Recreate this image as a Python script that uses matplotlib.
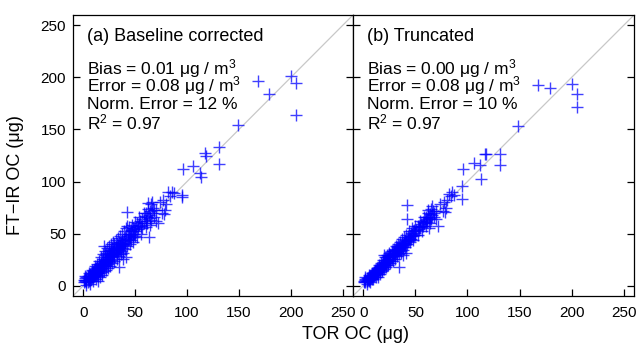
import matplotlib.pyplot as plt

plt.rcParams["font.family"] = ["Liberation Sans", "DejaVu Sans"]
plt.rcParams["mathtext.fontset"] = "custom"
plt.rcParams["mathtext.rm"] = "Liberation Sans"
plt.rcParams["mathtext.it"] = "Liberation Sans:italic"

# TOR OC (x) shared by both panels, FT-IR OC for each method
tor_oc = [
    1, 1, 2, 2, 2, 3, 3, 3, 4, 4, 4, 5, 5, 5, 6, 6, 6, 7, 7, 7,
    8, 8, 8, 9, 9, 9, 10, 10, 10, 10, 11, 11, 11, 12, 12, 12, 13, 13, 13, 14,
    14, 14, 15, 15, 15, 16, 16, 16, 17, 17, 17, 18, 18, 18, 19, 19, 19, 20, 20, 20,
    21, 21, 21, 22, 22, 22, 23, 23, 24, 24, 24, 25, 25, 26, 26, 26, 27, 27, 28, 28,
    28, 29, 29, 30, 30, 30, 31, 31, 32, 32, 32, 33, 33, 34, 34, 34, 35, 35, 36, 36,
    37, 37, 38, 38, 38, 39, 40, 40, 41, 41, 42, 42, 43, 43, 44, 45, 45, 46, 46, 47,
    48, 48, 49, 50, 50, 51, 52, 53, 54, 55, 56, 57, 58, 59, 60, 60, 61, 62, 63, 63,
    64, 65, 65, 66, 67, 68, 70, 72, 74, 76, 77, 78, 79, 80, 82, 84, 85, 87, 95, 95,
    96, 106, 112, 113, 117, 118, 131, 131, 149, 168, 179, 200, 205, 205,
    2, 3, 5, 6, 8, 9, 11, 12, 13, 14, 15, 16, 17, 18, 19, 20, 21, 22, 23, 24,
    25, 26, 27, 28, 29, 30, 31, 32, 33, 34, 35, 36, 37, 38, 39, 40, 41, 42, 44, 45,
    47, 48, 50, 52, 54, 56, 58, 60, 62, 64, 66, 68, 70, 25, 27, 29, 31, 33, 35, 37,
    39, 44, 46, 49, 53, 57, 61, 64,
]
ftir_baseline = [
    5, 3, 4, 7, 5, 5, 8, 3, 3, 7, 9, 6, 9, 4, 8, 5, 11, 10, 6, 8,
    9, 12, 7, 11, 8, 14, 13, 9, 15, 11, 12, 9, 16, 14, 11, 17, 13, 10, 18, 16,
    12, 4, 18, 14, 21, 17, 20, 8, 16, 22, 19, 19, 24, 13, 17, 21, 26, 23, 38, 19,
    20, 25, 29, 24, 19, 31, 27, 22, 26, 30, 21, 24, 33, 28, 31, 23, 25, 34, 30, 27,
    36, 33, 29, 35, 28, 40, 32, 37, 30, 35, 41, 38, 32, 36, 42, 18, 34, 39, 41, 30,
    38, 44, 40, 36, 26, 43, 41, 47, 45, 27, 71, 57, 44, 50, 48, 46, 50, 44, 53, 52,
    47, 55, 50, 52, 48, 56, 60, 54, 58, 62, 57, 64, 60, 67, 62, 70, 66, 74, 47, 68,
    72, 63, 78, 70, 75, 66, 73, 60, 80, 70, 82, 69, 73, 78, 90, 86, 90, 89, 87, 85,
    112, 115, 108, 104, 127, 125, 133, 117, 154, 197, 184, 201, 195, 164,
    9, 1, 12, 2, 15, 4, 19, 6, 21, 9, 24, 12, 27, 10, 30, 14, 33, 15, 36, 17,
    38, 19, 40, 22, 42, 24, 44, 26, 46, 28, 48, 33, 50, 31, 52, 35, 55, 38, 56, 40,
    58, 42, 61, 47, 66, 50, 70, 56, 79, 58, 80, 73, 62, 27, 29, 31, 34, 35, 37, 40,
    39, 45, 49, 54, 57, 55, 60, 65,
]
ftir_truncated = [
    4, 3, 3, 6, 5, 4, 7, 4, 5, 6, 7, 5, 8, 4, 7, 6, 9, 9, 7, 8,
    8, 10, 6, 10, 9, 12, 12, 10, 13, 11, 11, 10, 14, 13, 12, 15, 12, 11, 16, 15,
    13, 8, 16, 15, 18, 16, 18, 11, 17, 19, 18, 18, 21, 15, 18, 20, 23, 22, 29, 20,
    21, 23, 25, 22, 20, 27, 25, 23, 25, 28, 22, 24, 29, 27, 29, 24, 26, 30, 29, 28,
    33, 31, 30, 32, 29, 34, 31, 34, 31, 34, 37, 35, 33, 35, 38, 18, 34, 37, 38, 31,
    37, 41, 39, 37, 29, 41, 40, 44, 43, 31, 77, 64, 43, 47, 46, 45, 48, 45, 51, 50,
    48, 52, 49, 51, 49, 53, 57, 54, 56, 59, 57, 61, 60, 63, 62, 66, 64, 70, 55, 66,
    69, 64, 74, 68, 72, 66, 72, 57, 78, 72, 80, 71, 75, 82, 88, 86, 90, 87, 83, 96,
    112, 118, 116, 102, 126, 126, 126, 116, 153, 193, 190, 194, 184, 172,
    8, 2, 10, 3, 12, 6, 15, 8, 17, 11, 20, 13, 22, 14, 25, 16, 27, 18, 29, 20,
    31, 22, 33, 24, 35, 26, 38, 28, 40, 30, 42, 33, 45, 34, 47, 37, 49, 40, 52, 42,
    55, 44, 57, 49, 62, 52, 66, 57, 73, 60, 76, 70, 64, 26, 28, 30, 33, 34, 36, 39,
    40, 44, 48, 53, 56, 57, 61, 65,
]

titles = ["(a) Baseline corrected", "(b) Truncated"]
stats = [
    ["Bias = 0.01 \u03bcg / m$^3$", "Error = 0.08 \u03bcg / m$^3$",
     "Norm. Error = 12 %", "R$^2$ = 0.97"],
    ["Bias = 0.00 \u03bcg / m$^3$", "Error = 0.08 \u03bcg / m$^3$",
     "Norm. Error = 10 %", "R$^2$ = 0.97"],
]
ticks = [0, 50, 100, 150, 200, 250]

fig = plt.figure(figsize=(6.38, 3.45), dpi=100)
ax_a = fig.add_axes([73 / 638, 49 / 345, 280 / 638, 281 / 345])
ax_b = fig.add_axes([353 / 638, 49 / 345, 281 / 638, 281 / 345])

for i, (ax, y) in enumerate([(ax_a, ftir_baseline), (ax_b, ftir_truncated)]):
    ax.plot([-10, 260], [-10, 260], color="#c8c8c8", lw=0.9, zorder=1)
    ax.plot(tor_oc, y, "+", color="#0000ff", ms=8.5, mew=1.0, alpha=0.75, zorder=2)
    ax.set_xlim(-10, 260)
    ax.set_ylim(-10, 260)
    ax.set_xticks(ticks)
    ax.set_yticks(ticks)
    ax.tick_params(direction="in", length=5, width=0.9, labelsize=11,
                   left=True, right=True, top=False, bottom=True)
    ax.tick_params(axis="x", pad=7)
    ax.tick_params(axis="y", pad=5)
    for s in ax.spines.values():
        s.set_linewidth(0.9)
    ax.text(0.05, 0.908, titles[i], transform=ax.transAxes, fontsize=13, va="baseline")
    for k, line in enumerate(stats[i]):
        yy = [0.79, 0.727, 0.666, 0.594][k]
        ax.text(0.05, yy, line, transform=ax.transAxes, fontsize=12.5, va="baseline")

ax_b.tick_params(labelleft=False)
ax_a.set_ylabel("FT\u2212IR OC (\u03bcg)", fontsize=13)
ax_a.yaxis.set_label_coords(-0.175, 0.43)
fig.text(355 / 638, 0.018, "TOR OC (\u03bcg)", fontsize=13, ha="center", va="baseline")

fig.savefig("out.png", dpi=100)
